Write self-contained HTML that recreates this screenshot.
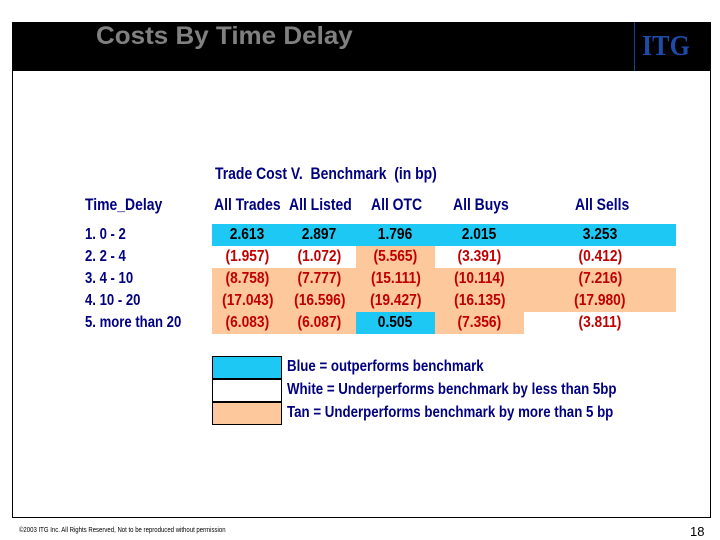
<!DOCTYPE html>
<html><head><meta charset="utf-8"><style>
body{margin:0;width:720px;height:540px;background:#fff;position:relative;overflow:hidden;font-family:"Liberation Sans",sans-serif}
.a{position:absolute}
.n{display:inline-block;transform:scaleX(.82);transform-origin:left center;white-space:nowrap}
.c{display:inline-block;transform:scaleX(.86);transform-origin:center;white-space:nowrap}
.hd{color:#000080;font-weight:bold;font-size:17px}
table{position:absolute;left:212px;top:224px;border-collapse:collapse}
td{padding:0;height:22px;text-align:center;font-weight:bold;font-size:16px;line-height:22px}
.b{background:#1ec8f5}.t{background:#fcc89c}.w{background:#fff}
.neg{color:#c00000}.pos{color:#000}
.box{position:absolute;left:212px;width:68px;height:21px;border:1px solid #000}
</style></head><body>
<div class="a" style="left:12px;top:22px;width:697px;height:494px;border:1px solid #000"></div>
<div class="a" style="left:12px;top:22px;width:699px;height:49px;background:#000"></div>
<div class="a" style="left:96px;top:22px;color:#808080;font-weight:bold;font-size:25px"><span class="n" style="transform:scaleX(1.04)">Costs By Time Delay</span></div>
<div class="a" style="left:634px;top:22px;width:1px;height:49px;background:#1e3c8c"></div>
<div class="a" style="left:642px;top:30px;color:#1e4aa8;font-family:'Liberation Serif',serif;font-weight:bold;font-size:29px"><span class="n" style="transform:scaleX(.9)">ITG</span></div>

<div class="a hd" style="left:215px;top:164px"><span class="n">Trade Cost V.&nbsp; Benchmark&nbsp; (in bp)</span></div>
<div class="a hd" style="left:85px;top:195px"><span class="n">Time_Delay</span></div>
<div class="a hd" style="left:214px;top:195px"><span class="n">All Trades</span></div>
<div class="a hd" style="left:289px;top:195px"><span class="n">All Listed</span></div>
<div class="a hd" style="left:371px;top:195px"><span class="n">All OTC</span></div>
<div class="a hd" style="left:453px;top:195px"><span class="n">All Buys</span></div>
<div class="a hd" style="left:575px;top:195px"><span class="n">All Sells</span></div>

<div class="a hd" style="left:85px;top:224px;font-size:16px;line-height:22px">
<div><span class="n">1. 0 - 2</span></div><div><span class="n">2. 2 - 4</span></div><div><span class="n">3. 4 - 10</span></div><div><span class="n">4. 10 - 20</span></div><div><span class="n">5. more than 20</span></div></div>

<table>
<colgroup><col style="width:71px"><col style="width:73px"><col style="width:79px"><col style="width:89px"><col style="width:152px"></colgroup>
<tr class="b"><td class="pos"><span class="c">2.613</span></td><td class="pos"><span class="c">2.897</span></td><td class="pos"><span class="c">1.796</span></td><td class="pos"><span class="c">2.015</span></td><td class="pos"><span class="c">3.253</span></td></tr>
<tr><td class="neg w"><span class="c">(1.957)</span></td><td class="neg w"><span class="c">(1.072)</span></td><td class="neg t"><span class="c">(5.565)</span></td><td class="neg w"><span class="c">(3.391)</span></td><td class="neg w"><span class="c">(0.412)</span></td></tr>
<tr class="t"><td class="neg"><span class="c">(8.758)</span></td><td class="neg"><span class="c">(7.777)</span></td><td class="neg"><span class="c">(15.111)</span></td><td class="neg"><span class="c">(10.114)</span></td><td class="neg"><span class="c">(7.216)</span></td></tr>
<tr class="t"><td class="neg"><span class="c">(17.043)</span></td><td class="neg"><span class="c">(16.596)</span></td><td class="neg"><span class="c">(19.427)</span></td><td class="neg"><span class="c">(16.135)</span></td><td class="neg"><span class="c">(17.980)</span></td></tr>
<tr><td class="neg t"><span class="c">(6.083)</span></td><td class="neg t"><span class="c">(6.087)</span></td><td class="pos b"><span class="c">0.505</span></td><td class="neg t"><span class="c">(7.356)</span></td><td class="neg w"><span class="c">(3.811)</span></td></tr>
</table>

<div class="box b" style="top:356px"></div>
<div class="box w" style="top:379px"></div>
<div class="box t" style="top:402px"></div>
<div class="a hd" style="left:287px;top:358px;font-size:16px"><span class="n" style="transform:scaleX(.83)">Blue = outperforms benchmark</span></div>
<div class="a hd" style="left:287px;top:381px;font-size:16px"><span class="n" style="transform:scaleX(.83)">White = Underperforms benchmark by less than 5bp</span></div>
<div class="a hd" style="left:287px;top:404px;font-size:16px"><span class="n" style="transform:scaleX(.83)">Tan = Underperforms benchmark by more than 5 bp</span></div>

<div class="a" style="left:19px;top:527px;font-size:7px;color:#000"><span class="n" style="transform:scaleX(.86)">©2003 ITG Inc. All Rights Reserved, Not to be reproduced without permission</span></div>
<div class="a" style="left:690px;top:524px;font-size:13px;color:#000">18</div>
</body></html>
